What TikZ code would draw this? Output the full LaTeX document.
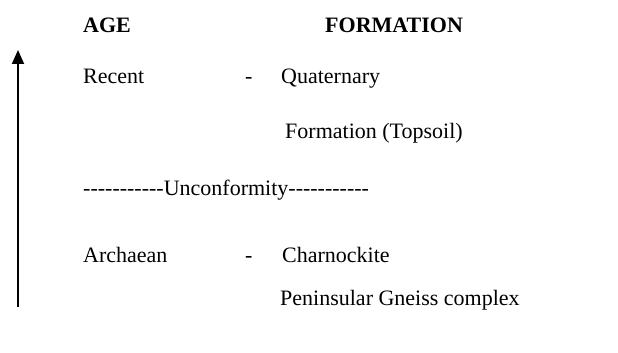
\documentclass[tikz,border=0pt]{standalone}
\usepackage{fontspec}
\setmainfont{Liberation Serif}[Ligatures=TeXOff]
\usepackage{tikz}
\usetikzlibrary{arrows.meta,positioning}

\begin{document}
\begin{tikzpicture}[
    x=1pt, y=-1pt,
    txt/.style={anchor=base west, inner sep=0pt, font=\fontsize{22}{26}\selectfont},
    head/.style={txt, font=\fontsize{22}{26}\selectfont\bfseries},
    timeline/.style={line width=2pt, -{Triangle[width=12pt,length=14pt]}}
]
\useasboundingbox (0,0) rectangle (618,353);

% headings
\node[head] (age) at (83,33) {AGE};
\node[head] (formation) at (325,33) {FORMATION};

% upper unit
\node[txt] (recent) at (83,83) {Recent};
\node[txt] (dashA) at (245,83) {-};
\node[txt] (quat) at (281,83) {Quaternary};
\node[txt] (topsoil) at (285,138) {Formation (Topsoil)};

\node[txt] (unconf) at (83,195) {-----------Unconformity-----------};

% lower unit
\node[txt] (archaean) at (83,262) {Archaean};
\node[txt] (dashB) at (245,262) {-};
\node[txt] (charn) at (282,262) {Charnockite};
\node[txt] (gneiss) at (280,305) {Peninsular Gneiss complex};

% time arrow
\coordinate (old) at (18,307);
\coordinate (young) at (18,50);
\draw[timeline] (old) -- (young);

\end{tikzpicture}
\end{document}
